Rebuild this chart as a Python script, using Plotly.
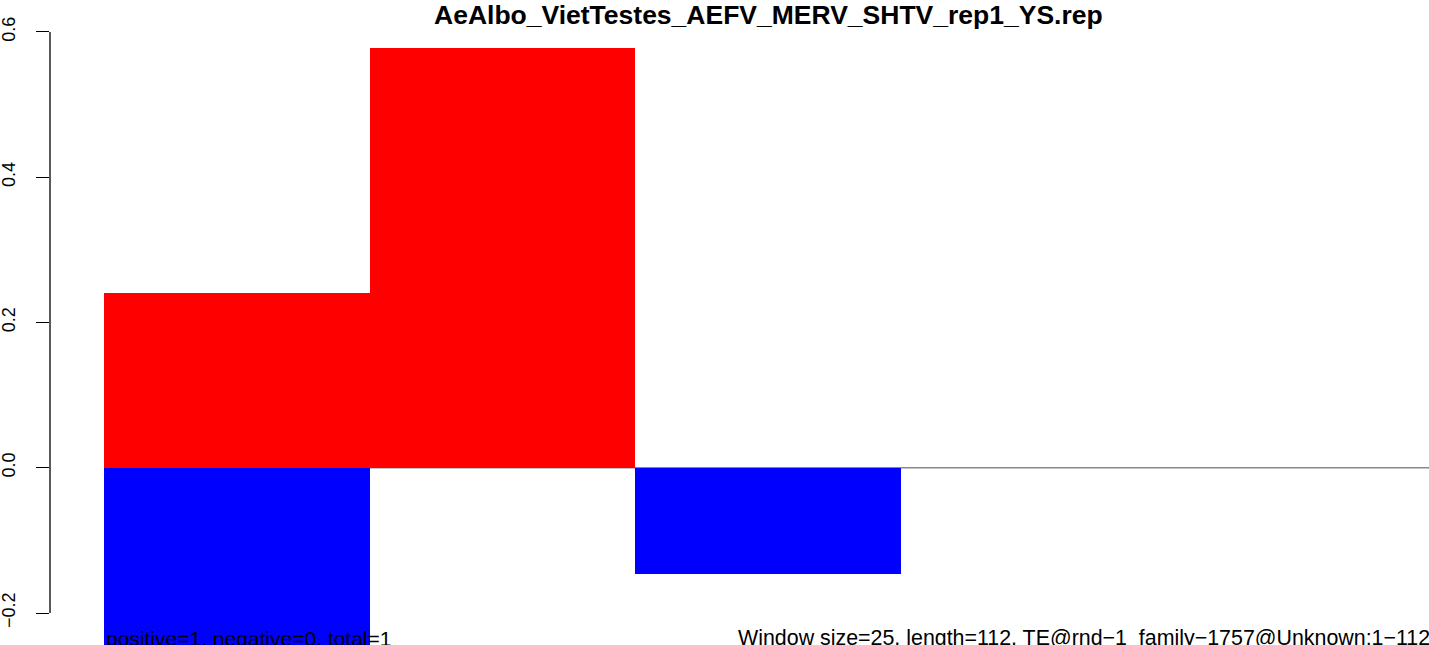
import plotly.graph_objects as go

# windows of 25 bp along a 112 bp element
window_pos = [0.5, 1.5, 2.5, 3.5, 4.5]
positive = [0.24, 0.578, 0.0, 0.0, 0.0]
negative = [-0.25, 0.0, -0.146, 0.0, 0.0]

tick_vals = [-0.2, 0.0, 0.2, 0.4, 0.6]
tick_text = ["\u22120.2", "0.0", "0.2", "0.4", "0.6"]

title = "AeAlbo_VietTestes_AEFV_MERV_SHTV_rep1_YS.rep"
left_note = "positive=1, negative=0, total=1"
right_note = "Window size=25, length=112, TE@rnd\u22121_family\u22121757@Unknown:1\u2212112"

font = "Liberation Sans, Arial, Helvetica, sans-serif"

fig = go.Figure()
fig.add_trace(go.Bar(x=window_pos, y=positive, width=1, marker_color="#ff0000",
                     marker_line_width=0, showlegend=False))
fig.add_trace(go.Bar(x=window_pos, y=negative, width=1, marker_color="#0000ff",
                     marker_line_width=0, showlegend=False))

# zero line (abline) across the windows
fig.add_shape(type="line", xref="x", x0=0, x1=len(window_pos), yref="y", y0=0, y1=0,
              line=dict(color="#888888", width=1.5), layer="below")
# R-style axis line spanning only the tick range
fig.add_shape(type="line", xref="paper", x0=0, x1=0, yref="y",
              y0=min(tick_vals), y1=max(tick_vals),
              line=dict(color="black", width=1.3))

fig.add_annotation(text="<b>" + title + "</b>", xref="paper", yref="paper",
                   x=(768 - 50) / 1379, y=1, yshift=-15, xanchor="center", yanchor="middle",
                   showarrow=False, font=dict(size=26.5, family=font, color="black"))
fig.add_annotation(text=left_note, xref="x", yref="paper", x=0, y=0, yshift=-7,
                   xanchor="left", yanchor="bottom", showarrow=False,
                   font=dict(size=21, family=font, color="black"))
fig.add_annotation(text=right_note, xref="paper", yref="paper", x=1, y=0, yshift=-7,
                   xshift=3, xanchor="right", yanchor="bottom", showarrow=False,
                   font=dict(size=21.4, family=font, color="black"))

fig.update_layout(
    width=1429, height=645,
    margin=dict(l=50, r=0, t=0, b=0),
    paper_bgcolor="white", plot_bgcolor="white",
    barmode="overlay", bargap=0,
    font=dict(family=font, color="black"),
    xaxis=dict(range=[-0.203, 4.987], visible=False, fixedrange=True),
    yaxis=dict(range=[-0.244, 0.644], tickvals=tick_vals, ticktext=tick_text,
               tickangle=-90, ticks="outside", ticklen=13, tickwidth=1.3,
               tickcolor="black", showgrid=False, zeroline=False, showline=False,
               tickfont=dict(size=18, family=font), ticklabelstandoff=14),
)

fig.write_html("out.html", config={"displayModeBar": False},
               post_script="document.body.style.margin='0px';")
